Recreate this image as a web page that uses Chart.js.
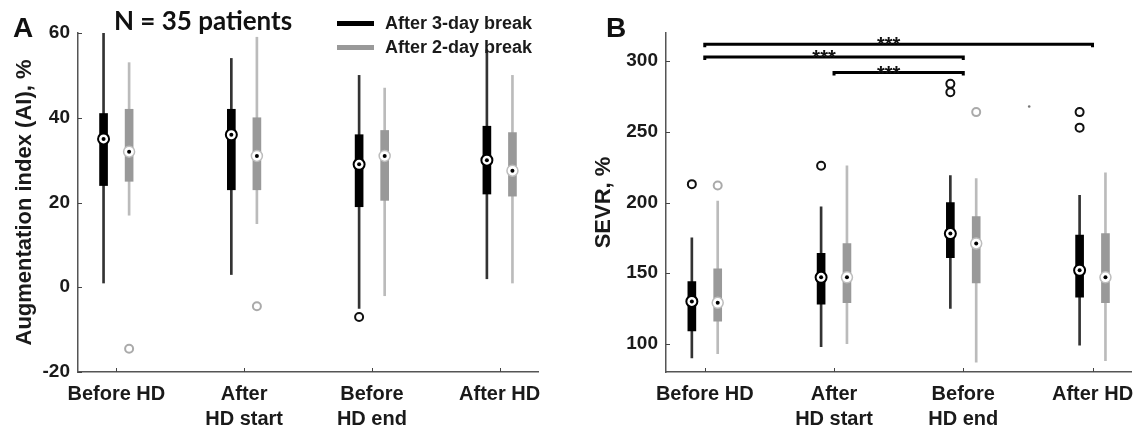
<!DOCTYPE html>
<html>
<head>
<meta charset="utf-8">
<script src="https://cdn.jsdelivr.net/npm/chart.js@4.4.1/dist/chart.umd.min.js"></script>
<style>
  html, body { margin: 0; padding: 0; background: #fff; }
  body { width: 1144px; height: 432px; position: relative; overflow: hidden;
         font-family: "Liberation Sans", Arial, sans-serif; color: #1a1a1a; }
  canvas { position: absolute; top: 0; }
  #chartA { left: 0; }
  #chartB { left: 575px; }
  .txt { position: absolute; font-weight: bold; white-space: nowrap; }
  .panel-tag { font-size: 28px; line-height: 28px; color: #111; }
  .title { font-family: Lato, "Open Sans", sans-serif; font-size: 26px; line-height: 26px; color: #111; }
  .leg-text { font-size: 18px; line-height: 20px; color: #1a1a1a; }
  .leg-line { position: absolute; height: 5px; width: 37px; }
</style>
</head>
<body>
<canvas id="chartA" width="575" height="432"></canvas>
<canvas id="chartB" width="569" height="432"></canvas>

<div class="txt panel-tag" style="left:13px; top:14px;">A</div>
<div class="txt panel-tag" style="left:606px; top:14px;">B</div>
<div class="txt title" style="left:114px; top:7px;">N = 35 patients</div>

<div class="leg-line" style="left:337px; top:21px; background:#000;"></div>
<div class="txt leg-text" id="leg1" style="left:385px; top:13px;"></div>
<div class="leg-line" style="left:337px; top:45px; background:#999;"></div>
<div class="txt leg-text" id="leg2" style="left:385px; top:37px;"></div>

<script>
// ---- data ----
const categories = ['Before HD', ['After', 'HD start'], ['Before', 'HD end'], 'After HD'];
const seriesNames = ['After 3-day break', 'After 2-day break'];

// each entry: [lower whisker, Q1, median, Q3, upper whisker]
const aiThreeDay = [[1, 24, 35, 41, 60], [3, 23, 36, 42, 54], [-5, 19, 29, 36, 50], [2, 22, 30, 38, 56]];
const aiTwoDay = [[17, 25, 32, 42, 53], [15, 23, 31, 40, 59], [-2, 20.5, 31, 37, 47], [1, 21.5, 27.5, 36.5, 50]];
const aiThreeDayOut = [[], [], [-7], []];
const aiTwoDayOut = [[-14.5], [-4.5], [], []];
const aiTicks = [-20, 0, 20, 40, 60];

const sevrThreeDay = [[90, 109, 130, 144, 175], [98, 128, 147, 164, 197], [125, 161, 178, 200, 219], [99, 133, 152, 177, 205]];
const sevrTwoDay = [[93, 116, 129, 153, 201], [100, 129, 147, 171, 226], [87, 143, 171, 190, 217], [88, 129, 147, 178, 221]];
const sevrThreeDayOut = [[213], [226], [284, 278], [264, 253]];
const sevrTwoDayOut = [[212], [], [264], []];
const sevrStray = [[3.51, 268]];
const sevrTicks = [100, 150, 200, 250, 300];

// significance brackets (category from, category to, SEVR level)
const sigFrom = [1, 1, 2];
const sigTo = [4, 3, 3];
const sigLevel = [312, 303, 292];
const sigLabel = ['***', '***', '***'];

document.getElementById('leg1').textContent = seriesNames[0];
document.getElementById('leg2').textContent = seriesNames[1];

const FONT = '"Liberation Sans", Arial, sans-serif';

function boxSets(stats, outliers, offset, look) {
  const xs = stats.map((s, i) => i + 1 + offset);
  const out = [];
  outliers.forEach((list, i) => list.forEach(v => out.push({ x: i + 1 + offset, y: v })));
  return [
    { type: 'scatter', order: 0, data: stats.map((s, i) => ({ x: xs[i], y: s[2] })),
      pointRadius: 2, pointBackgroundColor: '#000', pointBorderWidth: 0 },
    { type: 'scatter', order: 1, data: stats.map((s, i) => ({ x: xs[i], y: s[2] })),
      pointRadius: 5.5, pointBackgroundColor: '#fff', pointBorderColor: look.ring, pointBorderWidth: look.ringWidth },
    { type: 'scatter', order: 2, data: out,
      pointRadius: 4, pointBackgroundColor: 'rgba(0,0,0,0)', pointBorderColor: look.outlier, pointBorderWidth: 2 },
    { type: 'bar', order: 3, grouped: false, barThickness: 8, backgroundColor: look.box,
      data: stats.map((s, i) => ({ x: xs[i], y: [s[1], s[3]] })) },
    { type: 'bar', order: 4, grouped: false, barThickness: 2, backgroundColor: look.whisker,
      data: stats.map((s, i) => ({ x: xs[i], y: [s[0], s[4]] })) }
  ];
}

const darkLook = { box: '#000', whisker: '#333', ring: '#000', ringWidth: 2, outlier: '#111' };
const greyLook = { box: '#999', whisker: '#bbb', ring: '#bdbdbd', ringWidth: 1.5, outlier: '#aaa' };

const innerTicks = {
  id: 'innerTicks',
  afterDraw(chart) {
    const { ctx, chartArea, scales } = chart;
    ctx.save();
    ctx.strokeStyle = '#444';
    ctx.lineWidth = 1;
    ctx.beginPath();
    scales.y.ticks.forEach(t => {
      const py = Math.round(scales.y.getPixelForValue(t.value)) + 0.5;
      ctx.moveTo(chartArea.left, py);
      ctx.lineTo(chartArea.left + 4, py);
    });
    scales.x.ticks.forEach(t => {
      const px = Math.round(scales.x.getPixelForValue(t.value)) + 0.5;
      ctx.moveTo(px, chartArea.bottom);
      ctx.lineTo(px, chartArea.bottom - 4);
    });
    ctx.stroke();
    ctx.restore();
  }
};

const sigBrackets = {
  id: 'sigBrackets',
  afterDatasetsDraw(chart) {
    const { ctx, scales: { x, y } } = chart;
    ctx.save();
    ctx.strokeStyle = '#000';
    ctx.fillStyle = '#111';
    ctx.lineWidth = 3;
    ctx.font = 'bold 20px ' + FONT;
    ctx.textAlign = 'center';
    ctx.textBaseline = 'alphabetic';
    sigLevel.forEach((lvl, i) => {
      const x0 = x.getPixelForValue(sigFrom[i]);
      const x1 = x.getPixelForValue(sigTo[i]);
      const py = y.getPixelForValue(lvl);
      ctx.beginPath();
      ctx.moveTo(x0, py + 3);
      ctx.lineTo(x0, py);
      ctx.lineTo(x1, py);
      ctx.lineTo(x1, py + 3);
      ctx.stroke();
      ctx.fillText(sigLabel[i], (x0 + x1) / 2 - 10, py + 7);
    });
    ctx.restore();
  }
};

function makePanel(id, cfg) {
  const datasets = [
    ...boxSets(cfg.three, cfg.threeOut, -0.1, darkLook),
    ...boxSets(cfg.two, cfg.twoOut, 0.1, greyLook),
    ...(cfg.extra || [])
  ];
  return new Chart(document.getElementById(id), {
    type: 'bar',
    data: { datasets },
    plugins: cfg.plugins,
    options: {
      responsive: false,
      animation: false,
      devicePixelRatio: 1,
      events: [],
      layout: { padding: { top: 33, right: cfg.padRight, left: 0, bottom: 0 } },
      plugins: { legend: { display: false }, tooltip: { enabled: false } },
      scales: {
        x: {
          type: 'linear', min: 0.7, max: 4.3, offset: false,
          afterBuildTicks: s => { s.ticks = categories.map((c, i) => ({ value: i + 1 })); },
          afterFit: s => { s.height = 60; },
          grid: { display: false, drawTicks: false },
          border: { display: true, color: '#555', width: 1.5 },
          ticks: {
            autoSkip: false, maxRotation: 0, padding: 10, color: '#1a1a1a',
            font: { family: FONT, size: 20, weight: 'bold', lineHeight: 1.25 },
            callback: v => categories[v - 1]
          }
        },
        y: {
          type: 'linear', min: cfg.min, max: cfg.max,
          afterBuildTicks: s => { s.ticks = cfg.ticks.map(v => ({ value: v })); },
          afterFit: s => { s.width = cfg.axisWidth; },
          grid: { display: false, drawTicks: false },
          border: { display: true, color: '#555', width: 1.5 },
          ticks: { padding: 8, color: '#1a1a1a', font: { family: FONT, size: 19, weight: 'bold' } },
          title: {
            display: true, text: cfg.title, color: '#1a1a1a',
            padding: { top: cfg.titlePad, bottom: 0 },
            font: { family: FONT, size: 22, weight: 'bold', lineHeight: 1.2 }
          }
        }
      }
    }
  });
}

makePanel('chartA', {
  three: aiThreeDay, two: aiTwoDay, threeOut: aiThreeDayOut, twoOut: aiTwoDayOut,
  min: -20, max: 60, ticks: aiTicks,
  title: 'Augmentation index (AI), %', titlePad: 12,
  axisWidth: 78, padRight: 37,
  plugins: [innerTicks]
});

makePanel('chartB', {
  three: sevrThreeDay, two: sevrTwoDay, threeOut: sevrThreeDayOut, twoOut: sevrTwoDayOut,
  min: 80, max: 320, ticks: sevrTicks,
  title: 'SEVR, %', titlePad: 16,
  axisWidth: 91, padRight: 11,
  extra: [{ type: 'scatter', order: 5, data: sevrStray.map(p => ({ x: p[0], y: p[1] })),
            pointRadius: 1.3, pointBackgroundColor: '#777', pointBorderWidth: 0 }],
  plugins: [innerTicks, sigBrackets]
});
</script>
</body>
</html>
